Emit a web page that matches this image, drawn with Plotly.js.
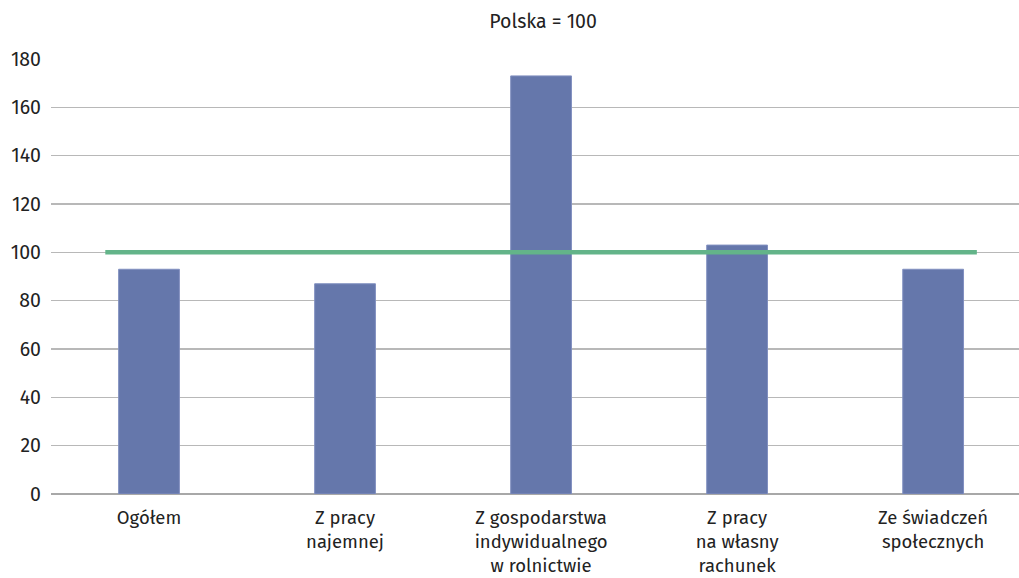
<!DOCTYPE html>
<html>
<head>
<meta charset="utf-8">
<script src="https://cdn.plot.ly/plotly-3.0.1.min.js"></script>
<style>html,body{margin:0;padding:0;background:#fff;overflow:hidden}#chart{width:1019px;height:578px}</style>
</head>
<body>
<div id="chart"></div>
<script>
const categories = [
  "Ogółem",
  "Z pracy<br>najemnej",
  "Z gospodarstwa<br>indywidualnego<br>w rolnictwie",
  "Z pracy<br>na własny<br>rachunek",
  "Ze świadczeń<br>społecznych"
];
const values = [93, 87, 173, 103, 93];
const referenceValue = 100;
const yTicks = [0, 20, 40, 60, 80, 100, 120, 140, 160, 180];
const chartTitle = "Polska = 100";

const font = "'Fira Sans', 'Open Sans', 'Noto Sans', sans-serif";

const bars = {
  type: "bar",
  x: categories,
  y: values,
  width: 0.31,
  marker: { color: "#6577ab", line: { color: "#8290c0", width: 1 } },
  hoverinfo: "skip",
  showlegend: false
};

const layout = {
  width: 1019,
  height: 578,
  margin: { l: 51, r: 0, t: 59, b: 84 },
  paper_bgcolor: "#ffffff",
  plot_bgcolor: "#ffffff",
  font: { family: font, size: 19.5, color: "#222222" },
  title: {
    text: chartTitle,
    font: { family: font, size: 19.5, color: "#222222" },
    x: 0.533, xref: "container", xanchor: "center",
    y: 0.964, yref: "container", yanchor: "middle"
  },
  xaxis: {
    type: "category",
    range: [-0.5, 4.438],
    showgrid: false,
    zeroline: false,
    showline: false,
    ticks: "",
    ticklabelstandoff: 10,
    tickfont: { family: font, size: 18.5, color: "#222222" },
    fixedrange: true
  },
  yaxis: {
    range: [0, 180],
    tickvals: yTicks,
    ticktext: yTicks.map(String),
    showgrid: true,
    gridcolor: "#b8b8b8",
    gridwidth: 1.3,
    zeroline: true,
    zerolinecolor: "#a8a8a8",
    zerolinewidth: 1.5,
    showline: false,
    ticks: "",
    ticklabelstandoff: 9,
    tickfont: { family: font, size: 19.5, color: "#222222" },
    fixedrange: true
  },
  shapes: [{
    type: "line",
    xref: "x", yref: "y",
    x0: -0.223, x1: 4.223,
    y0: referenceValue, y1: referenceValue,
    line: { color: "#63b489", width: 4.5 },
    layer: "above"
  }]
};

Plotly.newPlot("chart", [bars], layout, { staticPlot: true, displayModeBar: false });
</script>
</body>
</html>
